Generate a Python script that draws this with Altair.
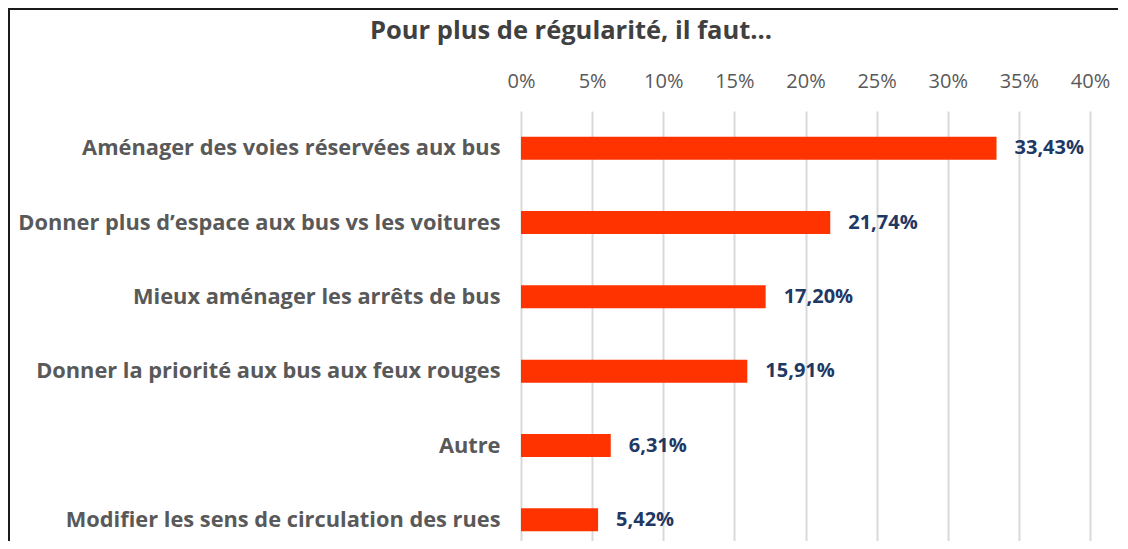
import altair as alt
import pandas as pd

categories = [
    "Aménager des voies réservées aux bus",
    "Donner plus d’espace aux bus vs les voitures",
    "Mieux aménager les arrêts de bus",
    "Donner la priorité aux bus aux feux rouges",
    "Autre",
    "Modifier les sens de circulation des rues",
]
values = [33.43, 21.74, 17.20, 15.91, 6.31, 5.42]
x_ticks = [0, 5, 10, 15, 20, 25, 30, 35, 40]
title_text = "Pour plus de régularité, il faut..."

labels = [f"{v:.2f}".replace(".", ",") + "%" for v in values]
df = pd.DataFrame({"cat": categories, "val": values, "label": labels})

FONT = "Open Sans"
W, H = 569, 431

y = alt.Y(
    "cat:N",
    sort=categories,
    title=None,
    scale=alt.Scale(range=[1, 447], paddingInner=0.69, paddingOuter=0.345),
    axis=alt.Axis(
        ticks=False, domain=False, labelPadding=21, labelFont=FONT,
        labelFontSize=21.8, labelFontWeight="bold", labelColor="#595959",
        labelLimit=700, grid=False,
    ),
)
x = alt.X(
    "val:Q",
    title=None,
    scale=alt.Scale(domain=[0, 40], nice=False),
    axis=alt.Axis(
        orient="top", values=x_ticks, labelExpr="datum.value + '%'",
        ticks=False, domain=False, grid=True, gridColor="#D9D9D9",
        gridWidth=2, labelFont=FONT, labelFontSize=20, labelColor="#595959",
        labelPadding=19, labelFlush=False, labelOverlap=False,
    ),
)

base = alt.Chart(df)
bars = base.mark_bar(color="#FF3300").encode(x=x, y=y)
text = base.mark_text(
    align="left", baseline="middle", dx=18, font=FONT, fontSize=20,
    fontWeight="bold", color="#1F3864",
).encode(x=alt.X("val:Q"), y=alt.Y("cat:N", sort=categories), text="label:N")

frame = alt.Chart(pd.DataFrame({"f": [0]})).mark_rect(
    fillOpacity=0, stroke="#1a1a1a", strokeWidth=2
).encode(
    x=alt.value(-512), x2=alt.value(W + 300),
    y=alt.value(-101), y2=alt.value(H + 300),
)

chart = alt.layer(frame, bars, text).properties(
    width=W,
    height=H,
    title=alt.TitleParams(
        title_text, anchor="start", frame="group", dx=-151, dy=40,
        font=FONT, fontSize=25.5, fontWeight="bold", color="#404040",
    ),
    padding={"left": 513, "top": 102, "right": 28, "bottom": 0},
    autosize=alt.AutoSizeParams(type="none"),
).configure_view(stroke=None)

chart.save("out.html", embed_options={"renderer": "svg", "actions": False})
